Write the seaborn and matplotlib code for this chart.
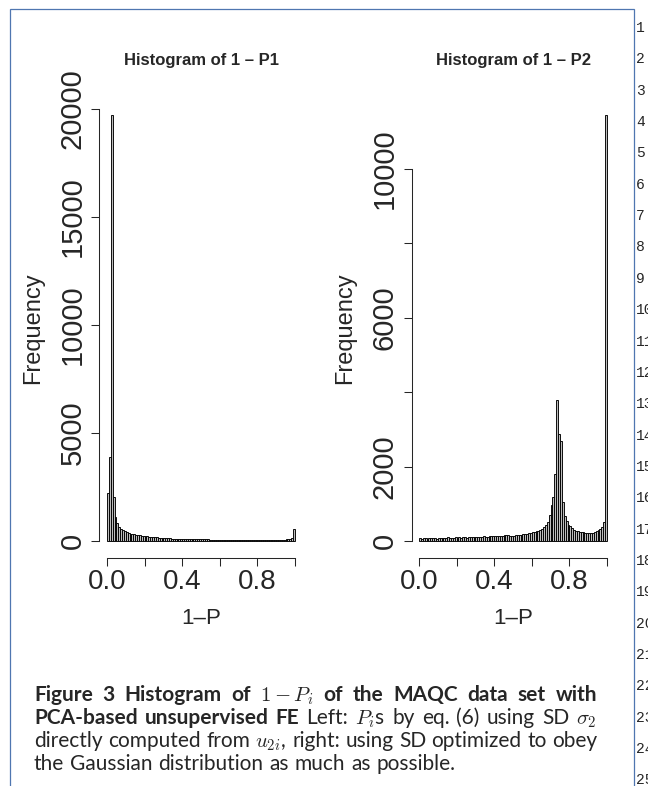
import numpy as np
import pandas as pd
import matplotlib
matplotlib.use("Agg")
import matplotlib.pyplot as plt
import seaborn as sns
from matplotlib.patches import Rectangle

# ------------------------------------------
# Data: counts per bin, 100 bins of width 0.01 on [0, 1]
# ------------------------------------------

p1_counts = [
    2200, 3900, 19700, 2050, 1100, 820, 650, 560, 490, 440,
    400, 370, 340, 320, 300, 285, 270, 255, 240, 230,
    220, 210, 200, 190, 180, 170, 162, 155, 148, 140,
    134, 128, 122, 117, 112, 108, 104, 100, 97, 94,
    91, 88, 86, 84, 82, 80, 78, 76, 75, 73,
    72, 70, 69, 68, 67, 66, 65, 64, 63, 62,
    61, 60, 59, 58, 58, 57, 56, 55, 55, 54,
    53, 53, 52, 52, 51, 51, 50, 50, 50, 49,
    49, 49, 48, 48, 48, 48, 49, 49, 50, 51,
    52, 54, 56, 59, 63, 68, 76, 90, 120, 550,
]

p2_counts = [
    70, 60, 80, 75, 65, 85, 70, 80, 75, 65,
    85, 70, 90, 80, 85, 95, 80, 90, 85, 95,
    90, 100, 85, 95, 105, 90, 100, 95, 110, 100,
    105, 115, 100, 110, 120, 105, 115, 125, 120, 130,
    125, 135, 130, 140, 140, 150, 155, 150, 135, 140,
    145, 150, 155, 160, 170, 180, 190, 200, 210, 220,
    235, 250, 265, 280, 300, 330, 370, 420, 520, 700,
    960, 1180, 1800, 3800, 2880, 2700, 1050, 680, 540, 440,
    390, 340, 300, 275, 260, 250, 240, 230, 220, 210,
    205, 210, 220, 240, 260, 290, 330, 380, 500, 11450,
]

panel_titles = ["Histogram of 1 \u2013 P1", "Histogram of 1 \u2013 P2"]
x_label = "1\u2013P"
y_label = "Frequency"

x_ticks = [0.0, 0.2, 0.4, 0.6, 0.8, 1.0]
x_ticklabels = ["0.0", "", "0.4", "", "0.8", ""]
p1_yticks = [0, 5000, 10000, 15000, 20000]
p1_yticklabels = ["0", "5000", "10000", "15000", "20000"]
p2_yticks = [0, 2000, 4000, 6000, 8000, 10000]
p2_yticklabels = ["0", "2000", "", "6000", "", "10000"]

# caption, word by word: (word, bold)
caption_lines = [
    [("Figure", True), ("3", True), ("Histogram", True), ("of", True),
     (r"$1 - P_i$", True), ("of", True), ("the", True), ("MAQC", True),
     ("data", True), ("set", True), ("with", True)],
    [("PCA-based", True), ("unsupervised", True), ("FE", True),
     ("Left:", False), (r"$P_i$s", False), ("by", False), ("eq.", False),
     ("(6)", False), ("using", False), ("SD", False), (r"$\sigma_2$", False)],
    [("directly", False), ("computed", False), ("from", False),
     (r"$u_{2i}$,", False), ("right:", False), ("using", False), ("SD", False),
     ("optimized", False), ("to", False), ("obey", False)],
    [("the", False), ("Gaussian", False), ("distribution", False), ("as", False),
     ("much", False), ("as", False), ("possible.", False)],
]

bin_edges = list(np.linspace(0, 1, 101))
bin_centers = [(a + b) / 2 for a, b in zip(bin_edges[:-1], bin_edges[1:])]

# ------------------------------------------
# Style
# ------------------------------------------

sns.set_style("ticks")
plt.rcParams["font.family"] = ["Liberation Sans", "DejaVu Sans"]
plt.rcParams["mathtext.fontset"] = "cm"

W, H = 648, 786
fig = plt.figure(figsize=(W / 100, H / 100), dpi=100)


def px_box(left, top, right, bottom):
    return [left / W, 1 - bottom / H, (right - left) / W, (bottom - top) / H]


panels = [
    (p1_counts, p1_yticks, p1_yticklabels, panel_titles[0], 99.5),
    (p2_counts, p2_yticks, p2_yticklabels, panel_titles[1], 411.5),
]

for counts, yticks, yticklabels, title, left in panels:
    ax = fig.add_axes(px_box(left, 98, left + 203, 558))

    df = pd.DataFrame({"p": bin_centers, "n": counts})
    sns.histplot(
        data=df,
        x="p",
        weights="n",
        bins=bin_edges,
        ax=ax,
        color="#bdbdbd",
        edgecolor="black",
        linewidth=0.65,
        alpha=1.0,
    )

    top = max(counts)
    ax.set_xlim(-0.04, 1.04)
    ax.set_ylim(-0.04 * top, 1.04 * top)

    ax.set_xticks(x_ticks, x_ticklabels)
    ax.set_yticks(yticks, yticklabels)

    for side in ["top", "right"]:
        ax.spines[side].set_visible(False)
    ax.spines["left"].set_bounds(yticks[0], yticks[-1])
    ax.spines["bottom"].set_bounds(0, 1)
    for side in ["left", "bottom"]:
        ax.spines[side].set_linewidth(0.75)

    ax.tick_params(length=6, width=0.75, labelsize=20, pad=2)
    ax.tick_params(axis="y", labelrotation=90, labelsize=21, pad=3)
    for lab in ax.get_yticklabels():
        lab.set_va("center")

    ax.set_xlabel(x_label, fontsize=16)
    ax.set_ylabel(y_label, fontsize=17)
    ax.xaxis.label.set_va("center")
    ax.yaxis.label.set_va("center")
    ax.xaxis.set_label_coords(0.5, (558 - 619) / 460)
    ax.yaxis.set_label_coords((33 - 99.5) / 203, 0.5)

    ax.set_title(title, fontsize=12, fontweight="bold", pad=24)

# ------------------------------------------
# Frame, line numbers, caption
# ------------------------------------------

fig.add_artist(Rectangle(
    (10 / W, -0.02), (634 - 10) / W, 1 - 9 / H + 0.02,
    transform=fig.transFigure, fill=False, edgecolor="#4f76b0", linewidth=0.9,
))

for i in range(25):
    fig.text(636 / W, 1 - (28 + i * 31.35) / H, str(i + 1),
             family="Liberation Mono", fontsize=10.5, ha="left", va="center")

cap_font = ["Lato", "DejaVu Sans"]
cap_size = 15
cap_left, cap_right = 34, 597
baselines = [701, 724, 747, 770]

renderer = fig.canvas.get_renderer()
for n, (tokens, base) in enumerate(zip(caption_lines, baselines)):
    texts = []
    for word, bold in tokens:
        t = fig.text(0, 1 - base / H, word, family=cap_font, fontsize=cap_size,
                     fontweight="bold" if bold else "normal", va="baseline")
        texts.append(t)
    widths = [t.get_window_extent(renderer).width for t in texts]
    if n < len(caption_lines) - 1:
        gap = (cap_right - cap_left - sum(widths)) / (len(texts) - 1)
    else:
        gap = cap_size * 100 / 72 * 0.28
    x = cap_left
    for t, w in zip(texts, widths):
        t.set_x(x / W)
        x += w + gap

fig.savefig("out.png", dpi=100)
